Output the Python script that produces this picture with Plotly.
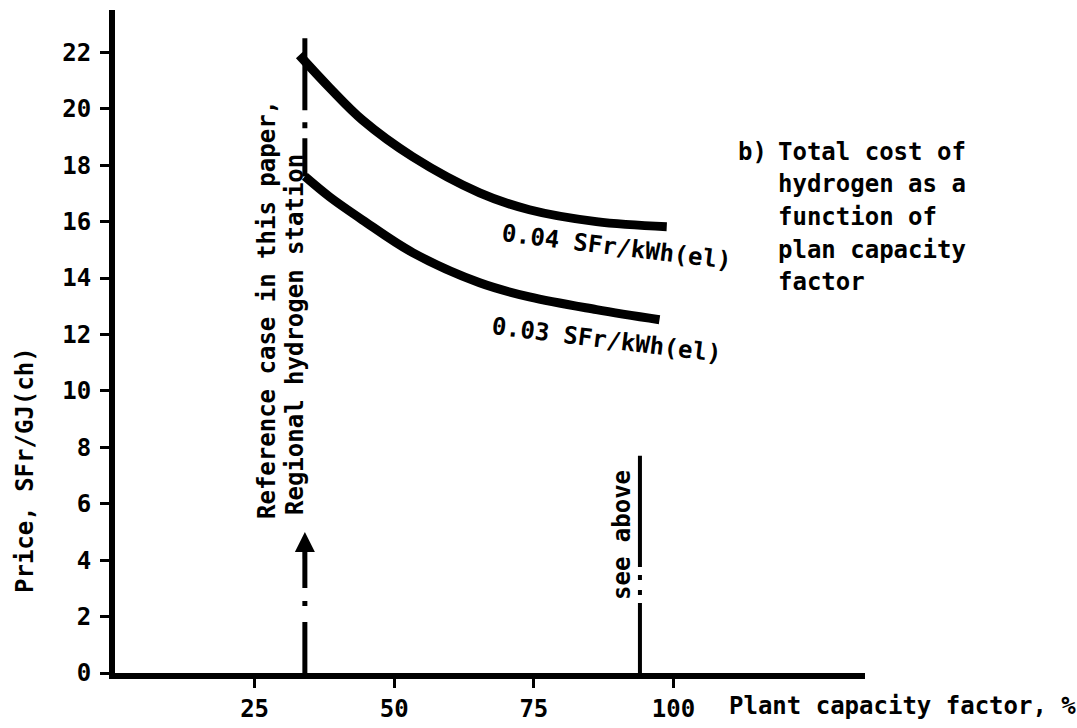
import plotly.graph_objects as go

# ---- data ----
capacity_004 = [33.0, 38.4, 44.3, 53.3, 65.3, 74.2, 86.2, 98.8]
price_004 = [21.9, 20.75, 19.6, 18.3, 17.02, 16.42, 16.0, 15.82]

capacity_003 = [34.0, 38.4, 44.3, 53.3, 65.3, 74.2, 86.2, 97.5]
price_003 = [17.6, 16.88, 16.06, 14.9, 13.83, 13.33, 12.88, 12.52]

ref_case_x = 34.0
ref_upper_y = [22.5, 17.6]
ref_lower_y = [0.0, 4.7]
ref_arrow_y = [4.0, 5.0]

see_above_x = 94.0
see_above_y = [0.0, 7.7]

x_ticks = [25, 50, 75, 100]
y_ticks = list(range(0, 23, 2))

label_004 = "0.04 SFr/kWh(el)"
label_003 = "0.03 SFr/kWh(el)"
note_lines = ["Total cost of", "hydrogen as a", "function of", "plan capacity", "factor"]

FONT = "DejaVu Sans Mono"
FS = 24
W, H = 1077, 728
ML, MR, MT, MB = 115, 212, 10, 55
PW, PH = W - ML - MR, H - MT - MB


def px(xp):
    return (xp - ML) / PW


def py(yp):
    return (H - MB - yp) / PH


fig = go.Figure()

line_style = dict(color="black", width=9, shape="spline", smoothing=1.0)
fig.add_trace(go.Scatter(x=capacity_004, y=price_004, mode="lines", line=line_style,
                         showlegend=False, hoverinfo="skip"))
fig.add_trace(go.Scatter(x=capacity_003, y=price_003, mode="lines", line=line_style,
                         showlegend=False, hoverinfo="skip"))

# reference-case dash-dot line (upper part, from top downward)
fig.add_trace(go.Scatter(x=[ref_case_x] * 2, y=ref_upper_y, mode="lines",
                         line=dict(color="black", width=5, dash="72px,12px,6px,10px"),
                         showlegend=False, hoverinfo="skip"))
# reference-case dash-dot line (lower part, from axis upward)
fig.add_trace(go.Scatter(x=[ref_case_x] * 2, y=ref_lower_y, mode="lines",
                         line=dict(color="black", width=5, dash="51px,16px,5px,13px"),
                         showlegend=False, hoverinfo="skip"))
# "see above" line
fig.add_trace(go.Scatter(x=[see_above_x] * 2, y=see_above_y, mode="lines",
                         line=dict(color="black", width=4,
                                   dash="70px,8px,5px,10px,5px,8px,200px"),
                         showlegend=False, hoverinfo="skip"))

annotations = []
# arrow head on reference line
annotations.append(dict(x=ref_case_x, y=ref_arrow_y[1], ax=ref_case_x, ay=ref_arrow_y[0],
                        xref="x", yref="y", axref="x", ayref="y", text="",
                        showarrow=True, arrowhead=2, arrowsize=1.0, arrowwidth=4,
                        arrowcolor="black"))

font = dict(family=FONT, size=FS, color="black", weight="bold")

# curve labels
annotations.append(dict(x=89.8, y=15.1, xref="x", yref="y", text=label_004, showarrow=False,
                        textangle=7, font=font, xanchor="center", yanchor="middle"))
annotations.append(dict(x=88.0, y=11.8, xref="x", yref="y", text=label_003, showarrow=False,
                        textangle=7, font=font, xanchor="center", yanchor="middle"))

# vertical texts
annotations.append(dict(x=px(267), y=py(310), xref="paper", yref="paper",
                        text="Reference case in this paper,", showarrow=False,
                        textangle=-90, font=font, xanchor="center", yanchor="middle"))
annotations.append(dict(x=px(295), y=py(335), xref="paper", yref="paper",
                        text="Regional hydrogen station", showarrow=False,
                        textangle=-90, font=font, xanchor="center", yanchor="middle"))
annotations.append(dict(x=px(622), y=py(535), xref="paper", yref="paper",
                        text="see above", showarrow=False,
                        textangle=-90, font=font, xanchor="center", yanchor="middle"))

# note block
annotations.append(dict(x=px(736), y=py(152), xref="paper", yref="paper", text="b)",
                        showarrow=False, font=font, xanchor="left", yanchor="middle"))
for i, t in enumerate(note_lines):
    annotations.append(dict(x=px(776), y=py(152 + 32.5 * i), xref="paper", yref="paper",
                            text=t, showarrow=False, font=font,
                            xanchor="left", yanchor="middle"))

# axis titles
annotations.append(dict(x=px(727), y=py(706), xref="paper", yref="paper",
                        text="Plant capacity factor, %", showarrow=False, font=font,
                        xanchor="left", yanchor="middle"))
annotations.append(dict(x=px(25), y=py(470), xref="paper", yref="paper",
                        text="Price, SFr/GJ(ch)", showarrow=False, font=font,
                        textangle=-90, xanchor="center", yanchor="middle"))

fig.update_layout(
    width=W, height=H,
    margin=dict(l=ML, r=MR, t=MT, b=MB),
    paper_bgcolor="white", plot_bgcolor="white",
    annotations=annotations,
    xaxis=dict(range=[0, 134.3], tickvals=x_ticks, ticktext=[str(v) for v in x_ticks],
               showgrid=False, zeroline=False, showline=True, linecolor="black",
               linewidth=6, ticks="outside", ticklen=9, tickwidth=3, tickcolor="black",
               tickfont=font, automargin=False),
    yaxis=dict(range=[0, 23.5], tickvals=y_ticks, ticktext=[str(v) for v in y_ticks],
               showgrid=False, zeroline=False, showline=True, linecolor="black",
               linewidth=6, ticks="outside", ticklen=9, tickwidth=3, tickcolor="black",
               tickfont=font, automargin=False, ticklabelstandoff=4),
)

fig.write_html("out.html", config={"displayModeBar": False},
               post_script="document.body.style.margin='0';")
